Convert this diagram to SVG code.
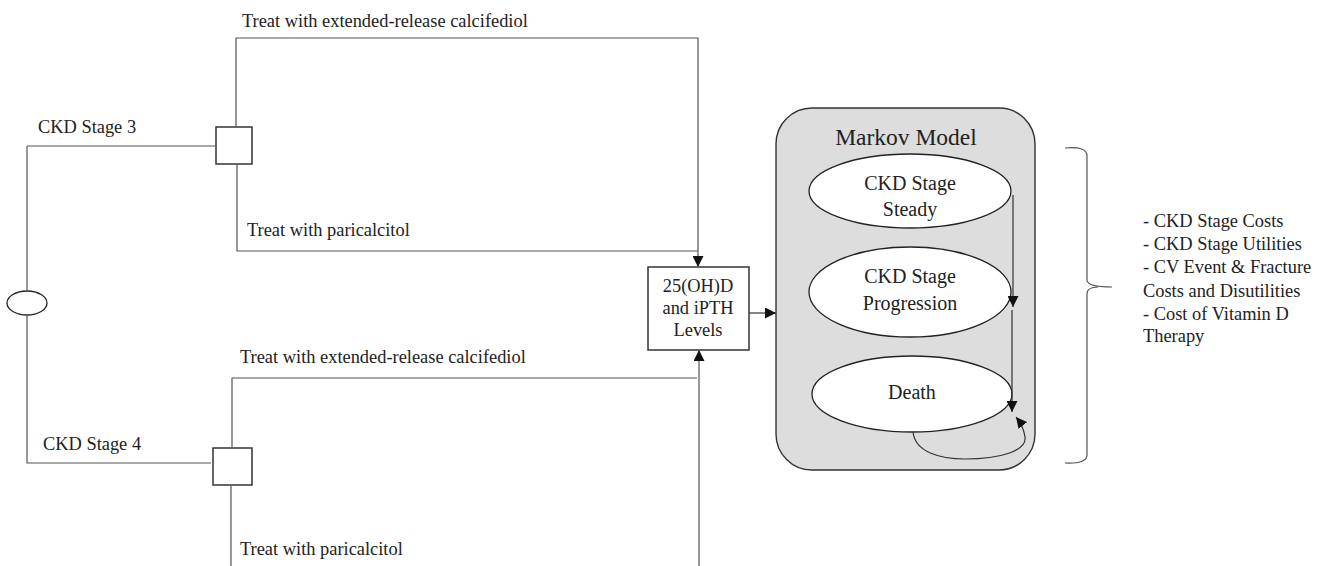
<svg xmlns="http://www.w3.org/2000/svg" width="1325" height="566" viewBox="0 0 1325 566">
<style>
text{font-family:"Liberation Serif","Times New Roman",serif;font-size:18.4px;fill:#222}
.ln{fill:none;stroke:#333;stroke-width:1.2}
.lt{fill:none;stroke:#555;stroke-width:1.2}
.box{fill:#fff;stroke:#333;stroke-width:1.5}
.st{fill:#fff;stroke:#222;stroke-width:1.3}
.c{text-anchor:middle}
.e{font-size:20px}
</style>
<defs>
<marker id="ah" viewBox="0 0 10 10" refX="10" refY="5" markerWidth="11" markerHeight="11" markerUnits="userSpaceOnUse" orient="auto">
<path d="M0,0 L10,5 L0,10 Z" fill="#111"/>
</marker>
</defs>
<rect width="1325" height="566" fill="#fff"/>
<g id="ckd3"><text x="38" y="133">CKD Stage 3</text></g>
<g id="ckd4"><text x="43" y="450">CKD Stage 4</text></g>
<g id="chance"><ellipse cx="27" cy="303" rx="20" ry="12" class="st"/></g>
<g id="decision3"><rect x="216" y="127" width="36" height="37" class="box"/></g>
<g id="decision4"><rect x="213" y="448" width="39" height="37" class="box"/></g>
<g id="label-ext3"><text x="242" y="27">Treat with extended-release calcifediol</text></g>
<g id="label-par3"><text x="247" y="236">Treat with paricalcitol</text></g>
<g id="label-ext4"><text x="240" y="363">Treat with extended-release calcifediol</text></g>
<g id="label-par4"><text x="240" y="555">Treat with paricalcitol</text></g>
<g id="levels">
<rect x="648" y="267" width="101" height="83" class="box"/>
<text x="698" y="292" class="c">25(OH)D</text>
<text x="698" y="314" class="c">and iPTH</text>
<text x="698" y="336" class="c">Levels</text>
</g>
<g id="markov">
<rect x="776" y="108" width="259" height="362" rx="36" ry="36" fill="#dddddd" stroke="#333" stroke-width="1.4"/>
<text x="906" y="145" class="c" style="font-size:23.5px">Markov Model</text>
</g>
<g id="steady">
<ellipse cx="910" cy="191" rx="101" ry="37" class="st"/>
<text x="910" y="190" class="c e">CKD Stage</text>
<text x="910" y="216" class="c e">Steady</text>
</g>
<g id="progression">
<ellipse cx="910" cy="292" rx="101" ry="45" class="st"/>
<text x="910" y="283" class="c e">CKD Stage</text>
<text x="910" y="310" class="c e">Progression</text>
</g>
<g id="death">
<ellipse cx="912" cy="394" rx="100" ry="38" class="st"/>
<text x="912" y="399" class="c e">Death</text>
</g>
<g id="outcomes">
<text x="1143" y="227">- CKD Stage Costs</text>
<text x="1143" y="250">- CKD Stage Utilities</text>
<text x="1143" y="273">- CV Event &amp; Fracture</text>
<text x="1143" y="297">Costs and Disutilities</text>
<text x="1143" y="320">- Cost of Vitamin D</text>
<text x="1143" y="342">Therapy</text>
</g>
<g id="connectors">
<path class="lt" d="M27,146 L216,146"/>
<path class="lt" d="M27,146 L27,291"/>
<path class="lt" d="M27,315 L27,463 L211,463"/>
<path class="lt" d="M236,127 L236,38 L698,38 L698,267" marker-end="url(#ah)"/>
<path class="lt" d="M237,164 L237,251 L698,251"/>
<path class="lt" d="M232,448 L232,378 L697,378"/>
<path class="lt" d="M231,485 L231,566"/>
<path class="lt" d="M699,566 L699,350" marker-end="url(#ah)"/>
<path class="ln" d="M749,313 L776,313" marker-end="url(#ah)"/>
<path class="ln" d="M1013,195 L1013,307" marker-end="url(#ah)"/>
<path class="ln" d="M1012,310 L1012,412" marker-end="url(#ah)"/>
<path class="ln" d="M913,432 C915,452 940,459 965,459 C1000,459 1027,451 1025,437 C1024,429 1020,422 1016,417" marker-end="url(#ah)"/>
<path class="lt" d="M1065,148 Q1087,146 1087,156 L1087,280 Q1087,287 1112,287 M1087,294 Q1087,287 1098,287 M1087,294 L1087,455 Q1087,464 1065,463"/>
</g>
</svg>
